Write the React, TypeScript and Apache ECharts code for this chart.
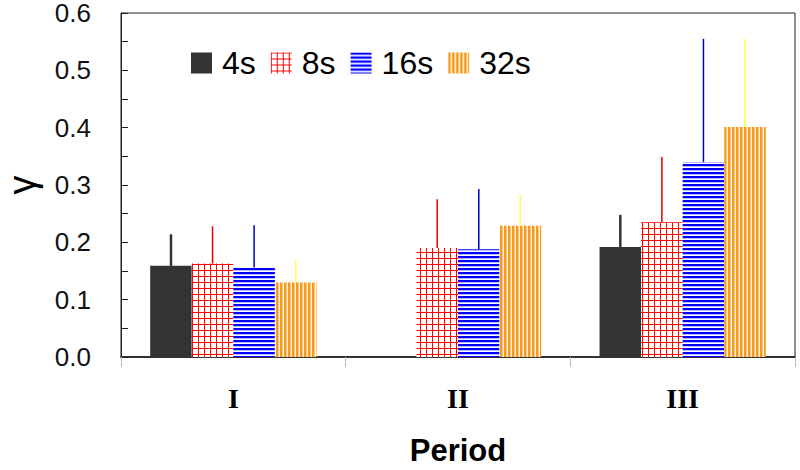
import React, { useEffect, useRef } from "react";
import * as echarts from "echarts";

const categories = ["I", "II", "III"];
const seriesNames = ["4s", "8s", "16s", "32s"];
const values4s = [0.159, null, 0.192];
const values8s = [0.163, 0.19, 0.235];
const values16s = [0.156, 0.188, 0.34];
const values32s = [0.13, 0.229, 0.401];
const err4s = [0.055, null, 0.056];
const err8s = [0.065, 0.085, 0.114];
const err16s = [0.074, 0.105, 0.215];
const err32s = [0.039, 0.055, 0.154];
const yTicks = [0, 0.1, 0.2, 0.3, 0.4, 0.5, 0.6];

function tile(w: number, h: number, draw: (ctx: CanvasRenderingContext2D) => void) {
  const c = document.createElement("canvas");
  c.width = w;
  c.height = h;
  const ctx = c.getContext("2d") as CanvasRenderingContext2D;
  draw(ctx);
  return { image: c.toDataURL(), repeat: "repeat", imageWidth: w, imageHeight: h };
}

export default function App() {
  const ref = useRef<HTMLDivElement>(null);
  useEffect(() => {
    document.body.style.margin = "0";
    if (!ref.current) return;
    const chart = echarts.init(ref.current, undefined, { renderer: "svg" });

    const redGrid = tile(6, 6, (ctx) => {
      ctx.fillStyle = "#ffffff";
      ctx.fillRect(0, 0, 6, 6);
      ctx.fillStyle = "#ff0000";
      ctx.fillRect(0, 0, 1, 6);
      ctx.fillRect(0, 0, 6, 1);
    });
    const blueLines = tile(1, 4, (ctx) => {
      ctx.fillStyle = "#ffffff";
      ctx.fillRect(0, 0, 1, 4);
      ctx.fillStyle = "#0000ff";
      ctx.fillRect(0, 0, 1, 2);
      ctx.fillStyle = "#b8b8ff";
      ctx.fillRect(0, 2, 1, 1);
    });
    const orangeLines = tile(4, 1, (ctx) => {
      ctx.fillStyle = "#fff4e2";
      ctx.fillRect(0, 0, 4, 1);
      ctx.fillStyle = "#f39c1c";
      ctx.fillRect(0, 0, 2, 1);
      ctx.fillStyle = "#f8c880";
      ctx.fillRect(2, 0, 1, 1);
    });

    const fills: any[] = ["#333333", redGrid, blueLines, orangeLines];
    const errColors = ["#333333", "#e00000", "#0000c0", "#ffff50"];
    const errWidths = [2.5, 1.5, 1.5, 1.5];
    const vals = [values4s, values8s, values16s, values32s];
    const errs = [err4s, err8s, err16s, err32s];
    const gapRatio = 0.26;

    const barSeries = seriesNames.map((name, k) => ({
      name,
      type: "bar",
      data: vals[k],
      barGap: "0%",
      barCategoryGap: "26%",
      itemStyle: { color: fills[k] },
      z: 2,
    }));

    const errSeries = seriesNames.map((name, k) => ({
      type: "custom",
      name: name + " error",
      z: 3,
      data: vals[k]
        .map((v, i) => (v == null || errs[k][i] == null ? null : [i, v, errs[k][i]]))
        .filter((d) => d != null),
      renderItem: (params: any, api: any) => {
        const ci = api.value(0);
        const v = api.value(1);
        const e = api.value(2);
        const base = api.coord([ci, v]);
        const top = api.coord([ci, v + e]);
        const band = api.size([1, 0])[0];
        const bw = (band * (1 - gapRatio)) / 4;
        const off = (k - 1.5) * bw;
        return {
          type: "line",
          shape: { x1: base[0] + off, y1: base[1], x2: base[0] + off, y2: top[1] },
          style: { stroke: errColors[k], lineWidth: errWidths[k] },
        };
      },
    }));

    chart.setOption({
      animation: false,
      backgroundColor: "#ffffff",
      grid: {
        left: 121,
        right: 5,
        top: 13,
        bottom: 113,
        containLabel: false,
        outerBoundsMode: "none",
        show: true,
        borderColor: "#222222",
        borderWidth: 1,
        backgroundColor: "transparent",
      },
      legend: {
        data: seriesNames,
        left: 191,
        top: 47,
        padding: 0,
        icon: "rect",
        itemWidth: 21,
        itemHeight: 21,
        itemGap: 15,
        textStyle: {
          fontSize: 32,
          color: "#000000",
          fontFamily: "Liberation Sans, Arial, sans-serif",
          padding: [0, 0, 0, 5],
        },
      },
      xAxis: {
        type: "category",
        data: categories,
        axisLine: { show: true, lineStyle: { color: "#333333", width: 2 } },
        axisTick: { show: true, length: 10, lineStyle: { color: "#bbbbbb", width: 1 } },
        axisLabel: {
          fontFamily: "Liberation Serif, Times New Roman, serif",
          fontWeight: "bold",
          fontSize: 28,
          color: "#000000",
          margin: 27,
        },
        name: "Period",
        nameLocation: "middle",
        nameGap: 78,
        nameTextStyle: {
          fontFamily: "Liberation Sans, Arial, sans-serif",
          fontWeight: "bold",
          fontSize: 31,
          color: "#000000",
        },
      },
      yAxis: {
        type: "value",
        min: yTicks[0],
        max: yTicks[yTicks.length - 1],
        interval: 0.1,
        axisLine: { show: true, lineStyle: { color: "#222222", width: 1 } },
        axisTick: { show: true, inside: true, length: 7, lineStyle: { color: "#222222" } },
        minorTick: { show: true, splitNumber: 2, length: 7, lineStyle: { color: "#222222" } },
        splitLine: { show: false },
        axisLabel: {
          formatter: (v: number) => v.toFixed(1),
          fontFamily: "Liberation Sans, Arial, sans-serif",
          fontSize: 26,
          lineHeight: 20,
          color: "#111111",
          margin: 30,
        },
        name: "γ",
        nameLocation: "middle",
        nameRotate: 90,
        nameGap: 83,
        nameTextStyle: {
          fontFamily: "Liberation Sans, Arial, sans-serif",
          fontSize: 38,
          lineHeight: 32,
          color: "#000000",
        },
      },
      series: [...barSeries, ...errSeries],
    });
    return () => chart.dispose();
  }, []);
  return <div ref={ref} style={{ width: 800, height: 470 }} />;
}
